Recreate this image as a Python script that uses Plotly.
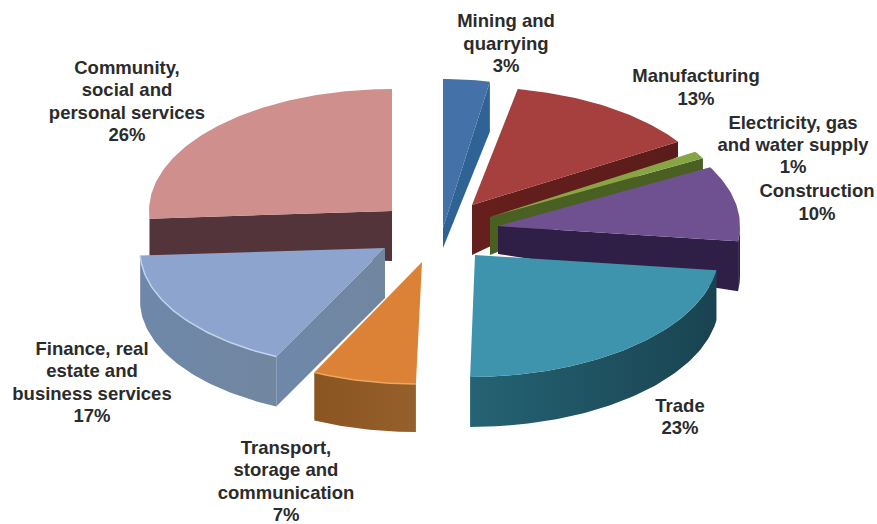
import math
import plotly.graph_objects as go

# --- data ---
categories = ["Mining and<br>quarrying", "Manufacturing", "Electricity, gas<br>and water supply",
              "Construction", "Trade", "Transport,<br>storage and<br>communication",
              "Finance, real<br>estate and<br>business services",
              "Community,<br>social and<br>personal services"]
shares = [3, 13, 1, 10, 23, 7, 17, 26]

# --- styling / projection of each exploded slice ---
top_colors = ["#4472a8", "#a5403e", "#87a545", "#6f5090", "#3f94ad", "#dc8236", "#8da5ce", "#cf8f8c"]
wall_colors = [("#2f6396", "#2f6396"), ("#661f1d", "#5a1c1a"), ("#4a5f22", "#4a5f22"), ("#2f1f47", "#2f1f47"),
               ("#246374", "#1a4350"), ("#8a5520", "#96602c"), ("#6f88aa", "#71869f"), ("#53343a", "#53343a")]
rim_highlight = [None, None, None, None, None, "#eca765", "#c3d3ee", None]
tip_x = [443, 472, 490, 498, 475, 422, 385, 392]
tip_y = [228, 205, 217, 226, 255, 262, 248, 211]
radius_x = [250, 244, 243, 242, 244, 240, 245, 243]
radius_y = [149, 118, 122, 122, 122, 122, 120, 122]
skew = [0, 0, 0, 0, -0.04, -0.05, -0.04, 0]
rim_depth = [50, 15, 12, 50, 50, 48, 50, 37]
tip_depth = [20, 50, 38, 28, 50, 48, 50, 50]
cut_side = ["end", "end", "end", "end", None, None, "start", "start"]
outer_from_deg = [None, None, None, 90, 97, 180, 205, None]
draw_order = [7, 0, 1, 2, 3, 4, 6, 5]
label_x = [506, 696, 793, 817, 680, 286, 92, 127]
label_y = [45, 89, 146.5, 204, 418.5, 483, 384, 103]
line_gap = 22.3

fig = go.Figure()


def add_poly(xs, ys, color=None, gradient=None):
    kw = dict(fillgradient=dict(type="horizontal", colorscale=[[0, gradient[0]], [1, gradient[1]]])) if gradient else dict(fillcolor=color)
    fig.add_trace(go.Scatter(x=xs + xs[:1], y=ys + ys[:1], mode="lines", fill="toself",
                             line=dict(width=0), hoverinfo="skip", showlegend=False, **kw))


def rim_point(i, deg):
    t = math.radians(deg)
    dy = -radius_y[i] * math.cos(t)
    return tip_x[i] + radius_x[i] * math.sin(t) + skew[i] * dy, tip_y[i] + dy


cum = 0
spans = []
for s in shares:
    spans.append((cum * 3.6, (cum + s) * 3.6))
    cum += s

for i in draw_order:
    a0, a1 = spans[i]
    n = max(4, int(a1 - a0))
    degs = [a0 + (a1 - a0) * k / n for k in range(n + 1)]
    # radial cut wall
    if cut_side[i]:
        rx, ry = rim_point(i, a1 if cut_side[i] == "end" else a0)
        add_poly([tip_x[i], rx, rx, tip_x[i]],
                 [tip_y[i], ry, ry + rim_depth[i], tip_y[i] + tip_depth[i]],
                 gradient=wall_colors[i])
    # curved outer wall
    if outer_from_deg[i] is not None:
        d0 = max(a0, outer_from_deg[i])
        ds = [d0 + (a1 - d0) * k / n for k in range(n + 1)]
        pts = [rim_point(i, d) for d in ds]
        add_poly([p[0] for p in pts] + [p[0] for p in reversed(pts)],
                 [p[1] for p in pts] + [p[1] + rim_depth[i] for p in reversed(pts)],
                 gradient=wall_colors[i])
    # top face
    pts = [rim_point(i, d) for d in degs]
    add_poly([tip_x[i]] + [p[0] for p in pts], [tip_y[i]] + [p[1] for p in pts], color=top_colors[i])
    if rim_highlight[i]:
        fig.add_trace(go.Scatter(x=[p[0] for p in pts], y=[p[1] for p in pts], mode="lines",
                                 line=dict(width=1.5, color=rim_highlight[i]),
                                 hoverinfo="skip", showlegend=False))

# labels, one text per line so the tight line spacing of the reference is kept
text_x, text_y, text_s = [], [], []
for c, s, lx, ly in zip(categories, shares, label_x, label_y):
    lines = c.split("<br>") + [f"{s}%"]
    for k, line in enumerate(lines):
        text_x.append(lx)
        text_y.append(ly + (k - (len(lines) - 1) / 2) * line_gap)
        text_s.append(line)

fig.add_trace(go.Scatter(
    x=text_x, y=text_y, mode="text", text=text_s,
    textposition="middle center",
    textfont=dict(family="Liberation Sans", size=18.5, color="#2b2b2b", weight="bold"),
    hoverinfo="skip", showlegend=False))

fig.update_layout(
    width=877, height=524, margin=dict(l=0, r=0, t=0, b=0),
    paper_bgcolor="white", plot_bgcolor="white",
    xaxis=dict(range=[0, 877], visible=False, fixedrange=True),
    yaxis=dict(range=[524, 0], visible=False, fixedrange=True),
)
fig.write_html("out.html", config=dict(displayModeBar=False),
               post_script="document.body.style.margin='0';document.body.style.overflow='hidden';")
